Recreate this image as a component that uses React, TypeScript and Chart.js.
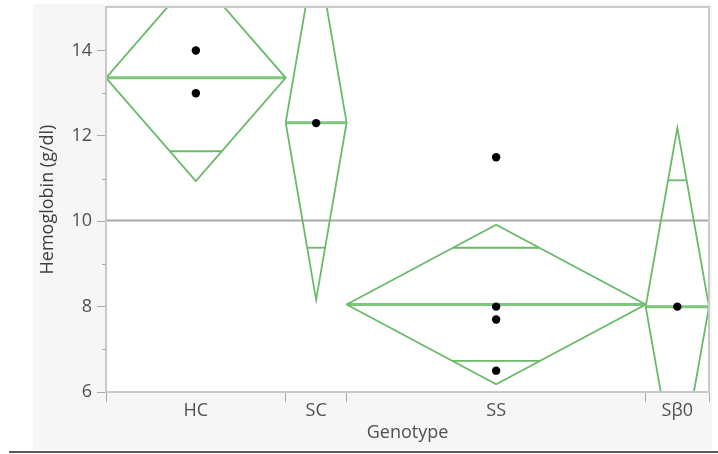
import React, { useEffect, useRef } from "react";
import { Chart, registerables } from "chart.js";
Chart.register(...registerables);

// Categories and their x-extent (JMP proportional widths)
const categories = ["HC", "SC", "SS", "Sβ0"];
const catBounds = [0, 2.98, 3.99, 8.95, 10];

// Means diamonds
const groupMeans = [13.36, 12.31, 8.05, 8.0];
const ciHalf = [2.42, 4.15, 1.87, 4.19];
const overlapMarks = [
  [11.64, 15.07],
  [9.38, 15.24],
  [9.38, 6.73],
  [10.96, 5.04],
];

// Observations
const hcValues = [14, 13];
const scValues = [12.3];
const ssValues = [11.5, 8, 7.7, 6.5];
const sb0Values = [8];
const groupValues = [hcValues, scValues, ssValues, sb0Values];

const grandMean = 10.02;
const yTicks = [6, 7, 8, 9, 10, 11, 12, 13, 14];
const yMajor = [6, 8, 10, 12, 14];
const yMin = 6;
const yMax = 15.02;

const GREEN = "#6aba6a";
const GREEN_MEAN = "#7ec67e";
const FRAME = "#c9c9c9";
const FONT = "'Open Sans', 'Noto Sans', sans-serif";

const centers = categories.map((_, i) => (catBounds[i] + catBounds[i + 1]) / 2);

function buildDatasets() {
  const ds: any[] = [];
  const pts: any[] = [];
  groupValues.forEach((vals, i) => vals.forEach((v) => pts.push({ x: centers[i], y: v })));
  ds.push({
    type: "scatter",
    data: pts,
    pointRadius: 4.2,
    pointBackgroundColor: "#000",
    pointBorderColor: "#000",
    pointBorderWidth: 0,
    showLine: false,
  });
  categories.forEach((_, i) => {
    const l = catBounds[i];
    const r = catBounds[i + 1];
    const c = centers[i];
    const m = groupMeans[i];
    const h = ciHalf[i];
    const hw = (r - l) / 2;
    ds.push({
      type: "scatter",
      data: [
        { x: l, y: m },
        { x: c, y: m + h },
        { x: r, y: m },
        { x: c, y: m - h },
        { x: l, y: m },
      ],
      showLine: true,
      borderColor: GREEN,
      borderWidth: 1.8,
      pointRadius: 0,
      fill: false,
      tension: 0,
    });
    ds.push({
      type: "scatter",
      data: [
        { x: l, y: m },
        { x: r, y: m },
      ],
      showLine: true,
      borderColor: GREEN_MEAN,
      borderWidth: 3,
      pointRadius: 0,
      fill: false,
    });
    overlapMarks[i].forEach((ov) => {
      const frac = 1 - Math.abs(ov - m) / h;
      const w = hw * frac;
      ds.push({
        type: "scatter",
        data: [
          { x: c - w, y: ov },
          { x: c + w, y: ov },
        ],
        showLine: true,
        borderColor: GREEN,
        borderWidth: 1.8,
        pointRadius: 0,
        fill: false,
      });
    });
  });
  ds.push({
    type: "scatter",
    data: [
      { x: catBounds[0], y: grandMean },
      { x: catBounds[catBounds.length - 1], y: grandMean },
    ],
    showLine: true,
    borderColor: "#a9a9a9",
    borderWidth: 2,
    pointRadius: 0,
    fill: false,
  });
  return ds;
}

const panelPlugin = {
  id: "panel",
  beforeDraw(chart: any) {
    const { ctx, chartArea: a, width, height } = chart;
    ctx.save();
    ctx.fillStyle = "#ffffff";
    ctx.fillRect(0, 0, width, height);
    ctx.fillStyle = "#f6f6f6";
    ctx.fillRect(33, 4, 679, 446);
    ctx.fillStyle = "#ffffff";
    ctx.fillRect(a.left, a.top, a.right - a.left, a.bottom - a.top);
    ctx.fillStyle = "#5a5a5a";
    ctx.fillRect(9, 451, width - 9, 2);
    ctx.restore();
  },
  afterDraw(chart: any) {
    const { ctx, chartArea: a } = chart;
    const ys = chart.scales.y;
    ctx.save();
    ctx.strokeStyle = FRAME;
    ctx.lineWidth = 2;
    ctx.strokeRect(a.left, a.top, a.right - a.left, a.bottom - a.top);
    ctx.lineWidth = 1;
    ctx.strokeStyle = "#aaaaaa";
    yTicks
      .filter((t) => !yMajor.includes(t))
      .forEach((t) => {
        const py = Math.round(ys.getPixelForValue(t)) + 0.5;
        ctx.beginPath();
        ctx.moveTo(a.left - 4, py);
        ctx.lineTo(a.left, py);
        ctx.stroke();
      });
    ctx.restore();
  },
};

export default function App() {
  const ref = useRef<HTMLCanvasElement | null>(null);
  useEffect(() => {
    if (!ref.current) return;
    const xTickVals = [...catBounds, ...centers].sort((a, b) => a - b);
    const chart = new Chart(ref.current, {
      type: "scatter",
      data: { datasets: buildDatasets() },
      plugins: [panelPlugin],
      options: {
        animation: false,
        responsive: false,
        maintainAspectRatio: false,
        events: [],
        layout: { padding: { left: 0, right: 9, top: 7, bottom: 0 } },
        plugins: { legend: { display: false }, tooltip: { enabled: false } },
        scales: {
          x: {
            type: "linear",
            min: catBounds[0],
            max: catBounds[catBounds.length - 1],
            afterFit: (s: any) => {
              s.height = 62;
              s.paddingLeft = 0;
              s.paddingRight = 0;
            },
            afterBuildTicks: (s: any) => {
              s.ticks = xTickVals.map((v) => ({ value: v }));
            },
            ticks: {
              autoSkip: false,
              maxRotation: 0,
              padding: -2,
              color: "#505050",
              font: { family: FONT, size: 18 },
              callback: (v: any) => {
                const idx = centers.findIndex((c) => Math.abs(c - v) < 1e-6);
                return idx >= 0 ? categories[idx] : "";
              },
            },
            grid: {
              drawOnChartArea: false,
              drawTicks: true,
              tickLength: 10,
              tickWidth: 1,
              tickColor: (ctx: any) =>
                catBounds.some((b) => Math.abs(b - ctx.tick.value) < 1e-6) ? "#aaaaaa" : "rgba(0,0,0,0)",
            },
            border: { display: true, color: FRAME, width: 2 },
            title: {
              display: true,
              text: "Genotype",
              color: "#505050",
              font: { family: FONT, size: 18 },
              padding: { top: 0, bottom: 10 },
            },
          },
          y: {
            type: "linear",
            min: yMin,
            max: yMax,
            afterFit: (s: any) => {
              s.width = 106;
              s.paddingTop = 0;
              s.paddingBottom = 0;
            },
            afterBuildTicks: (s: any) => {
              s.ticks = yTicks.map((v) => ({ value: v }));
            },
            ticks: {
              autoSkip: false,
              padding: 5,
              color: "#505050",
              font: { family: FONT, size: 18 },
              callback: (v: any) => (yMajor.includes(v) ? String(v) : ""),
            },
            grid: {
              drawOnChartArea: false,
              drawTicks: true,
              tickLength: 9,
              tickWidth: 1,
              tickColor: (ctx: any) => (yMajor.includes(ctx.tick.value) ? "#aaaaaa" : "rgba(0,0,0,0)"),
            },
            border: { display: true, color: FRAME, width: 2 },
            title: {
              display: true,
              text: "Hemoglobin (g/dl)",
              color: "#404040",
              font: { family: FONT, size: 18 },
              padding: { top: 37, bottom: 0 },
            },
          },
        },
      },
    } as any);
    return () => chart.destroy();
  }, []);
  return (
    <div style={{ position: "fixed", left: 0, top: 0, width: 718, height: 454, background: "#fff" }}>
      <canvas ref={ref} width={718} height={454} style={{ display: "block", width: 718, height: 454 }} />
    </div>
  );
}
